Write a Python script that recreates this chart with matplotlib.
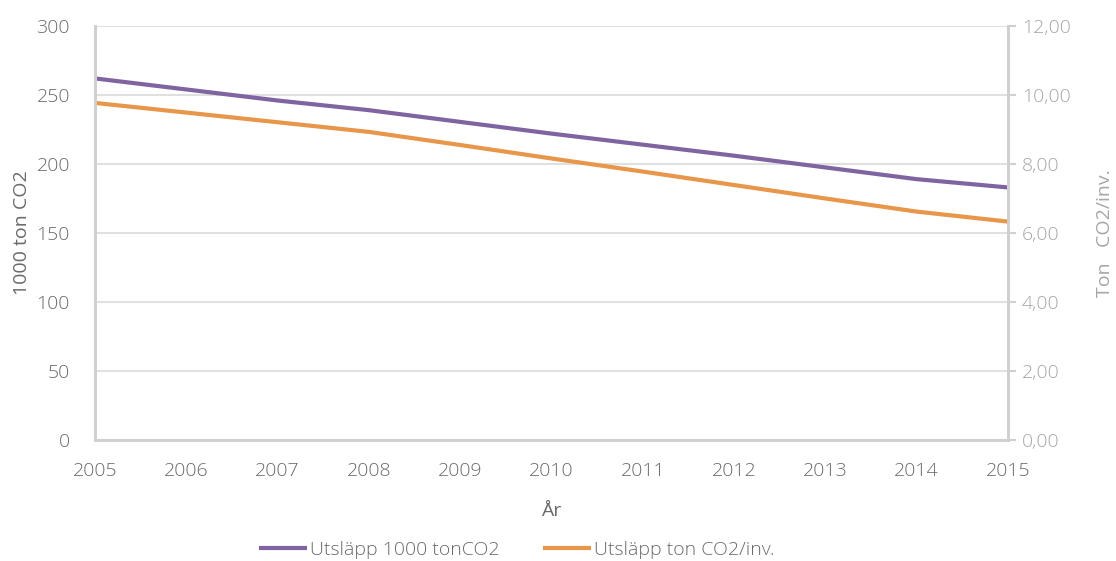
from matplotlib import pyplot as plt
from matplotlib.ticker import FuncFormatter

plt.rcParams['font.family'] = ['Open Sans', 'DejaVu Sans']
plt.rcParams['font.weight'] = 'light'

years = [2005, 2006, 2007, 2008, 2009, 2010, 2011, 2012, 2013, 2014, 2015]
utslapp_1000ton = [262, 254, 246, 239, 230.5, 222, 214, 206, 197.5, 189, 183]
utslapp_per_inv = [9.77, 9.49, 9.21, 8.93, 8.55, 8.16, 7.78, 7.39, 7.00, 6.62, 6.33]

purple = '#8064a2'
orange = '#e8964a'
grid_c = '#e0e0e0'
spine_c = '#d0d0d0'
dark_txt = '#6a6a6a'
light_txt = '#a6a6a6'

fig = plt.figure(figsize=(11.16, 5.61), dpi=100)
ax = fig.add_axes([0.0851, 0.2157, 0.8181, 0.738])
ax2 = ax.twinx()

l1, = ax.plot(years, utslapp_1000ton, color=purple, lw=3, solid_capstyle='butt')
l2, = ax2.plot(years, utslapp_per_inv, color=orange, lw=3, solid_capstyle='butt')

ax.set_xlim(2005, 2015)
ax.set_ylim(0, 300)
ax.set_yticks(range(0, 301, 50))
ax2.set_ylim(0, 12)
ax2.set_yticks(range(0, 13, 2))
ax2.yaxis.set_major_formatter(FuncFormatter(lambda v, p: f'{v:.2f}'.replace('.', ',')))
ax.set_xticks(years)

ax.grid(axis='y', color=grid_c, lw=1.5)
ax.set_axisbelow(True)

for a in (ax, ax2):
    a.spines['top'].set_visible(False)
    for s in ('left', 'right', 'bottom'):
        a.spines[s].set_color(spine_c)
        a.spines[s].set_linewidth(2)

ax.tick_params(axis='y', length=0, pad=18, labelsize=14, labelcolor=dark_txt)
ax.tick_params(axis='x', length=0, pad=16, labelsize=14, labelcolor=dark_txt)
ax2.tick_params(axis='y', length=6, width=1.5, color=spine_c, pad=4,
                labelsize=14, labelcolor=light_txt)

ax.set_ylabel('1000 ton CO2', fontsize=14, color=dark_txt, labelpad=4)
ax2.set_ylabel('Ton   CO2/inv.', fontsize=14, color=light_txt, labelpad=18)
ax.set_xlabel('År', fontsize=14, color=dark_txt, labelpad=16)

fig.legend([l1, l2], ['Utsläpp 1000 tonCO2', 'Utsläpp ton CO2/inv.'],
           loc='lower center', bbox_to_anchor=(0.463, -0.028), ncol=2,
           frameon=False, fontsize=14, labelcolor=dark_txt,
           handlelength=2.5, handletextpad=0.15, columnspacing=2.2)

fig.savefig('out.png', dpi=100)
